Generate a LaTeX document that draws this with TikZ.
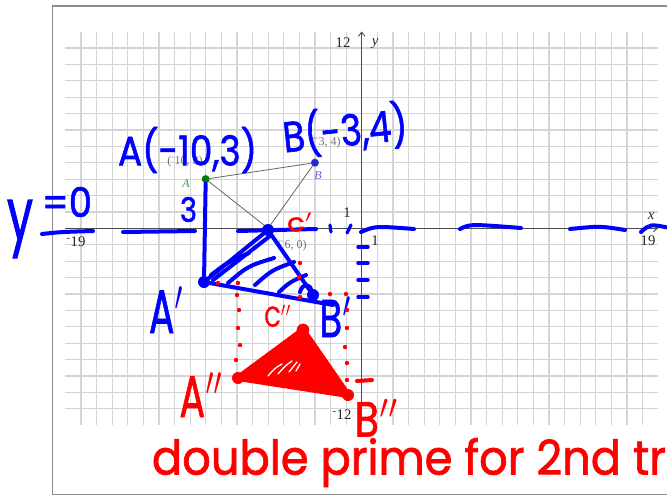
\documentclass[tikz,border=0pt]{standalone}
\usepackage{fontspec}
\usepackage{graphicx}
\usetikzlibrary{arrows.meta}
\newfontfamily\hand[FakeBold=1.5]{Poppins}
\newfontfamily\axisfont{Liberation Serif}
\definecolor{penblue}{RGB}{0,0,255}
\definecolor{penred}{RGB}{255,0,0}
\definecolor{gridgray}{RGB}{212,212,212}
\definecolor{dotgreen}{RGB}{0,125,0}
\definecolor{dotblue}{RGB}{40,40,205}
\definecolor{dotpink}{RGB}{240,110,240}
\newdimen\pxunit \pxunit=0.75pt
\newcommand{\hw}[3]{\resizebox*{#1\pxunit}{#2\pxunit}{\hand #3}}

\begin{document}
\begin{tikzpicture}[
  x=0.75pt,y=-0.75pt,
  gridline/.style={gridgray,line width=0.9pt},
  axisline/.style={black!70,line width=0.7pt},
  ticklabel/.style={inner sep=0pt,text=black!85,font=\axisfont\fontsize{11}{12}\selectfont},
  ptlabel/.style={inner sep=0pt,font=\axisfont\itshape\fontsize{9}{10}\selectfont},
  coordlabel/.style={inner sep=0pt,text=black!55,font=\axisfont\fontsize{9}{10}\selectfont},
  graphdot/.style={circle,inner sep=0pt,minimum size=6pt},
  handdot/.style={circle,inner sep=0pt,minimum size=9pt},
  bluepen/.style={penblue,line width=3pt,line cap=round,line join=round},
  redpen/.style={penred,line width=3pt,line cap=round,line join=round},
  handtext/.style={inner sep=0pt,anchor=center}
]
\useasboundingbox (0,0) rectangle (667,496);
\fill[white] (0,0) rectangle (667,496);
\draw[black!45,line width=1.2pt] (52.5,6) rectangle (730,494.5);

\begin{scope}[shift={(361.7,228.3)},x=11.7pt,y=12.3pt]
  \foreach \i in {-18,...,18} \draw[gridline] (\i,-12) -- (\i,12);
  \foreach \j in {-11,...,11} \draw[gridline] (-19,\j) -- (19,\j);
  \draw[axisline,-{Straight Barb[length=3pt,width=5pt]}] (-19,0) -- (19,0);
  \draw[axisline,-{Straight Barb[length=3pt,width=5pt]}] (0,-12) -- (0,12);
  \node[graphdot,fill=dotgreen] (ptA) at (-10,3) {};
  \node[graphdot,fill=dotblue] (ptB) at (-3,4) {};
  \node[graphdot,fill=dotpink] (ptC) at (-6,0) {};
\end{scope}
\draw[black!60,line width=0.6pt] (ptA) -- (ptB) -- (ptC) -- (ptA);

\node[ticklabel] (lblTwelve) at (343,43) {12};
\node[ticklabel,font=\axisfont\itshape\fontsize{11}{12}\selectfont] (lblY) at (375,44) {y};
\node[ticklabel,font=\axisfont\itshape\fontsize{11}{12}\selectfont] (lblX) at (651,216) {x};
\node[ticklabel] (lblLeft) at (76,242) {\textsuperscript{-}19};
\node[ticklabel] (lblRight) at (648,241) {19};
\node[ticklabel] (lblOneY) at (347,213) {1};
\node[ticklabel] (lblOneX) at (375,241) {1};
\node[ticklabel] (lblLow) at (342,415) {\textsuperscript{-}12};
\node[coordlabel] (crdA) at (185,162) {(\textsuperscript{-}10, 3)};
\node[coordlabel] (crdB) at (326,143) {(\textsuperscript{-}3, 4)};
\node[coordlabel] (crdC) at (292,246) {(\textsuperscript{-}6, 0)};
\node[ptlabel,text=dotgreen!75!white] (nmA) at (186,184) {A};
\node[ptlabel,text=dotblue!70!white] (nmB) at (318,176) {B};
\node[ptlabel,text=dotpink] (nmC) at (255,244) {C};

% blue pen
\draw[bluepen] (42,234) .. controls (60,232) .. (93,231);
\draw[bluepen] (123,232) -- (195,231);
\draw[bluepen] (238,231) -- (316,229);
\draw[bluepen] (361,232) .. controls (375,226) .. (414,229);
\draw[bluepen] (460,229) .. controls (470,224) .. (521,228);
\draw[bluepen] (570,229) .. controls (600,226) .. (625,230);
\draw[bluepen] (641,232) .. controls (650,224) .. (670,228);
\node[handdot,fill=penblue] (Ap) at (204,282) {};
\node[handdot,fill=penblue] (Bp) at (313,295) {};
\node[handdot,fill=penblue] (Cp) at (268,230) {};
\draw[bluepen] (ptA) -- (Ap);
\draw[bluepen] (Ap) -- (Cp) -- (Bp);
\draw[bluepen] (Ap) -- (333,305);
\draw[bluepen] (213,280) -- (270,236);
\draw[bluepen] (211,275) .. controls (228,262) .. (249,253);
\draw[bluepen] (228,283) .. controls (248,266) .. (274,258);
\draw[bluepen] (255,285) .. controls (272,270) .. (294,262);
\draw[bluepen] (279,292) .. controls (290,282) .. (306,275);
\draw[bluepen] (300,292) .. controls (302,283) and (312,283) .. (311,292);
\draw[bluepen,line width=2.4pt] (330,225) -- (331,232);
\draw[bluepen,line width=2.4pt] (347,233) -- (351,225);
\foreach \ry in {247,263,280,297} \draw[bluepen,line width=2.6pt] (358,\ry) -- (368,\ry);

\node[handtext,text=penblue] (hwY) at (20,229) {\hw{26}{58}{y}};
\node[handtext,text=penblue] (hwZero) at (67,202) {\hw{50}{30}{=0}};
\node[handtext,text=penblue] (hwThree) at (188.5,209.5) {\hw{17}{25}{3}};
\node[handtext,text=penblue] (hwA) at (187.5,150) {\hw{139}{46}{A(-10,3)}};
\node[handtext,text=penblue,rotate=6] (hwB) at (345,130) {\hw{125}{48}{B(-3,4)}};
\node[handtext,text=penblue] (hwAp) at (167,310) {\hw{36}{46}{A$'$}};
\node[handtext,text=penblue] (hwBp) at (336,317) {\hw{33}{40}{B$'$}};

% red pen
\foreach \rx/\ry in {218/283,238/283,237/295,239/310,238/328,240/345,236/360,
  300/263,299/277,300/297,330/294,346/294,347/310,347/328,345/347,347/363,347/380}
  \fill[penred] (\rx,\ry) circle (2.2);
\node[handdot,fill=penred] (App) at (238,378) {};
\node[handdot,fill=penred] (Bpp) at (348,395) {};
\node[handdot,fill=penred] (Cpp) at (303,330) {};
\filldraw[redpen,line width=4.5pt,fill=penred] (App.center) -- (Bpp.center) -- (Cpp.center) -- cycle;
\draw[redpen,line width=2.2pt] (Cpp) circle (5);
\draw[white,line width=1pt,line cap=round] (268,376) .. controls (275,368) .. (282,364)
  (278,374) .. controls (285,366) .. (292,361) (289,372) -- (297,362) (296,371) -- (300,364);
\draw[redpen] (357,381) -- (372,380);

\node[handtext,text=penred] (hwCp) at (300,222) {\hw{26}{19}{c$'$}};
\node[handtext,text=penred] (hwCpp) at (278,316) {\hw{27}{22}{C$''$}};
\node[handtext,text=penred] (hwApp) at (202,395) {\hw{45}{44}{A$''$}};
\node[handtext,text=penred] (hwBpp) at (377,418) {\hw{45}{37}{B$''$}};
\node[handtext,text=penred] (hwNote) at (409,462.5) {\hw{514}{49}{double prime for 2nd tr}};
\end{tikzpicture}
\end{document}
